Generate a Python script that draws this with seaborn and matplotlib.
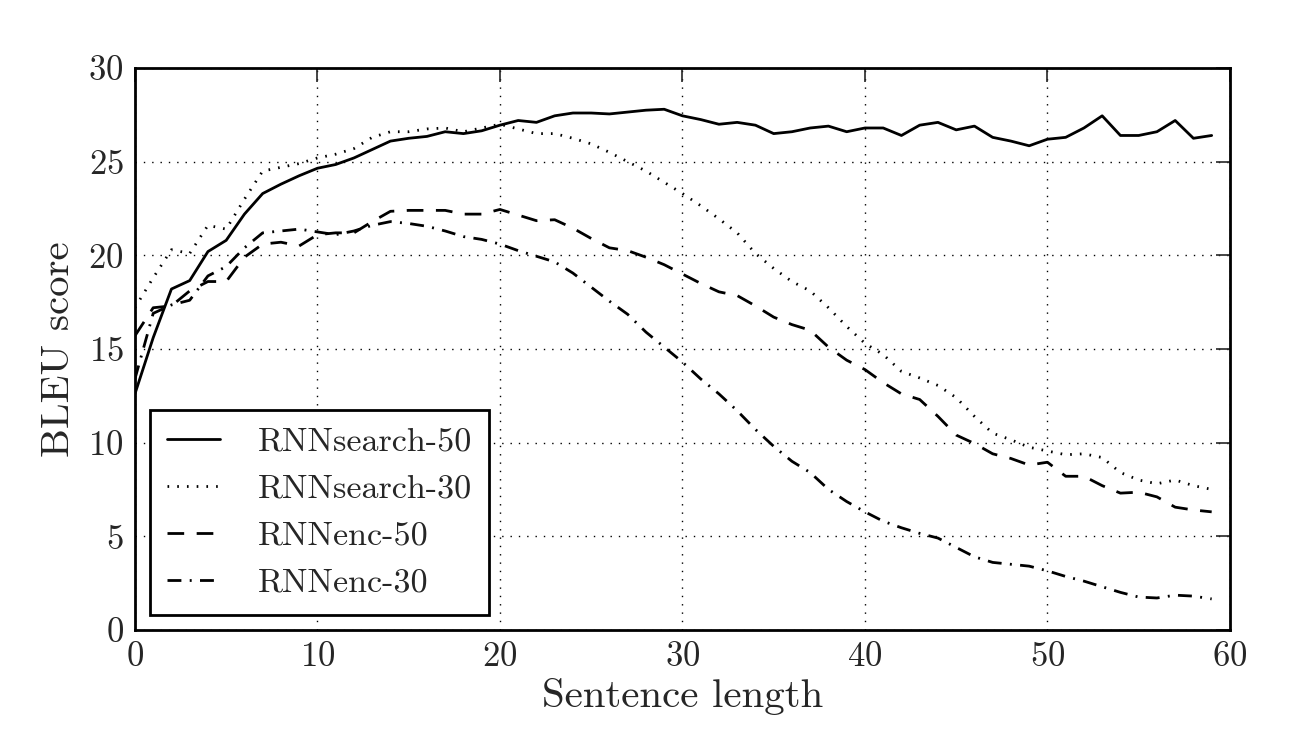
import numpy as np
import pandas as pd
import matplotlib
matplotlib.use("Agg")
import matplotlib.pyplot as plt
import seaborn as sns

# BLEU score per sentence length
lengths = list(range(60))
rnnsearch_50 = [12.6, 15.6, 18.2, 18.65, 20.2, 20.8, 22.2, 23.3, 23.8, 24.25,
                24.65, 24.85, 25.2, 25.65, 26.1, 26.25, 26.35, 26.6, 26.5, 26.65,
                26.95, 27.2, 27.1, 27.45, 27.6, 27.6, 27.55, 27.65, 27.75, 27.8,
                27.45, 27.25, 27.0, 27.1, 26.95, 26.5, 26.6, 26.8, 26.9, 26.6,
                26.8, 26.8, 26.4, 26.95, 27.1, 26.7, 26.9, 26.3, 26.1, 25.85,
                26.2, 26.3, 26.8, 27.45, 26.4, 26.4, 26.6, 27.2, 26.25, 26.4]
rnnsearch_30 = [17.2, 18.8, 20.3, 20.1, 21.6, 21.4, 23.0, 24.5, 24.7, 24.9,
                25.2, 25.4, 25.7, 26.3, 26.6, 26.6, 26.75, 26.8, 26.6, 26.8,
                27.0, 26.75, 26.5, 26.5, 26.25, 25.95, 25.5, 25.0, 24.5, 23.9,
                23.3, 22.65, 21.95, 21.2, 20.1, 19.3, 18.6, 18.1, 17.2, 16.2,
                15.3, 14.7, 13.8, 13.45, 13.05, 12.4, 11.4, 10.5, 10.15, 9.75,
                9.55, 9.35, 9.4, 9.2, 8.4, 8.0, 7.8, 8.0, 7.7, 7.5]
rnnenc_50 = [15.7, 17.2, 17.3, 18.1, 18.6, 18.6, 19.9, 20.6, 20.7, 20.5,
             21.1, 21.2, 21.2, 21.8, 22.35, 22.4, 22.4, 22.4, 22.2, 22.2,
             22.45, 22.15, 21.85, 21.9, 21.45, 20.9, 20.4, 20.25, 19.9, 19.5,
             19.0, 18.5, 18.05, 17.85, 17.3, 16.7, 16.3, 16.0, 15.1, 14.4,
             13.9, 13.2, 12.6, 12.3, 11.4, 10.4, 9.95, 9.4, 9.15, 8.8,
             8.95, 8.2, 8.2, 7.7, 7.3, 7.35, 7.1, 6.55, 6.4, 6.3]
rnnenc_30 = [13.4, 16.9, 17.35, 17.6, 18.9, 19.4, 20.4, 21.2, 21.3, 21.4,
             21.25, 21.1, 21.3, 21.6, 21.8, 21.7, 21.55, 21.3, 21.0, 20.85,
             20.6, 20.25, 19.95, 19.65, 19.05, 18.3, 17.55, 16.85, 15.9, 15.1,
             14.3, 13.4, 12.6, 11.7, 10.7, 9.8, 9.0, 8.4, 7.5, 6.85,
             6.3, 5.8, 5.45, 5.15, 4.9, 4.4, 3.9, 3.6, 3.5, 3.4,
             3.15, 2.85, 2.6, 2.3, 2.0, 1.75, 1.7, 1.85, 1.8, 1.65]
model_names = ["RNNsearch-50", "RNNsearch-30", "RNNenc-50", "RNNenc-30"]

df = pd.DataFrame({
    "length": lengths * 4,
    "bleu": rnnsearch_50 + rnnsearch_30 + rnnenc_50 + rnnenc_30,
    "model": np.repeat(model_names, len(lengths)),
})

sns.set_style("white")
plt.rcParams["font.family"] = ["cmr10", "DejaVu Serif"]
plt.rcParams["mathtext.fontset"] = "cm"
plt.rcParams["axes.formatter.use_mathtext"] = True

fig = plt.figure(figsize=(13, 7.48), dpi=100)
ax = fig.add_axes([0.1038, 0.158, 0.8423, 0.751])

line_dashes = {
    "RNNsearch-50": "",
    "RNNsearch-30": (0.6, 2.9),
    "RNNenc-50": (6, 4.5),
    "RNNenc-30": (5, 3, 0.7, 3),
}
sns.lineplot(data=df, x="length", y="bleu", style="model", style_order=model_names,
             dashes=line_dashes, color="k", linewidth=2.0, legend=False, ax=ax)

ax.set_xlim(0, 60)
ax.set_ylim(0, 30)
ax.set_xticks(range(0, 61, 10))
ax.set_yticks(range(0, 31, 5))
ax.grid(True, color="k", linestyle=(0, (1, 5)), linewidth=1.0)
ax.tick_params(direction="in", length=10, width=1.2, top=True, right=True,
               labelsize=25, pad=8)
for sp in ax.spines.values():
    sp.set_linewidth(2.0)
    sp.set_color("k")

ax.set_xlabel("Sentence length", fontsize=29.5, labelpad=4)
ax.set_ylabel("BLEU score", fontsize=29.5, labelpad=8)

leg = ax.legend(ax.lines[:4], model_names, loc="lower left", fontsize=24.5,
                fancybox=False, framealpha=1, edgecolor="k", handlelength=1.55,
                handletextpad=1.1, labelspacing=0.5, borderaxespad=0.45,
                borderpad=0.5)
leg.get_frame().set_linewidth(2.0)

fig.savefig("out.png", dpi=100)
